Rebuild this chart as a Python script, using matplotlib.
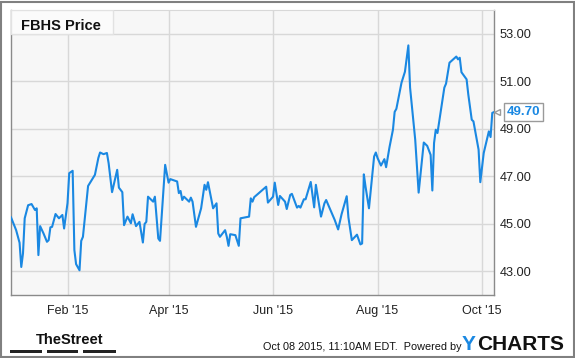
import matplotlib.pyplot as plt
from matplotlib.patches import Rectangle
import pandas as pd

# FBHS daily close
dates = ['2014-12-30', '2015-01-02', '2015-01-04', '2015-01-05', '2015-01-06', '2015-01-07',
         '2015-01-09', '2015-01-11', '2015-01-13', '2015-01-14', '2015-01-15', '2015-01-16',
         '2015-01-18', '2015-01-20', '2015-01-21', '2015-01-22', '2015-01-23', '2015-01-25',
         '2015-01-27', '2015-01-29', '2015-01-30', '2015-02-01', '2015-02-02', '2015-02-04',
         '2015-02-05', '2015-02-06', '2015-02-08', '2015-02-09', '2015-02-10', '2015-02-13',
         '2015-02-17', '2015-02-19', '2015-02-20', '2015-02-22', '2015-02-24', '2015-02-25',
         '2015-02-27', '2015-03-02', '2015-03-03', '2015-03-05', '2015-03-06', '2015-03-08',
         '2015-03-10', '2015-03-11', '2015-03-13', '2015-03-15', '2015-03-17', '2015-03-18',
         '2015-03-19', '2015-03-20', '2015-03-23', '2015-03-24', '2015-03-26', '2015-03-27',
         '2015-03-30', '2015-04-01', '2015-04-02', '2015-04-06', '2015-04-07', '2015-04-08',
         '2015-04-09', '2015-04-10', '2015-04-13', '2015-04-14', '2015-04-15', '2015-04-17',
         '2015-04-20', '2015-04-22', '2015-04-23', '2015-04-24', '2015-04-27', '2015-04-29',
         '2015-04-30', '2015-05-01', '2015-05-04', '2015-05-05', '2015-05-06', '2015-05-07',
         '2015-05-10', '2015-05-12', '2015-05-13', '2015-05-16', '2015-05-18', '2015-05-19',
         '2015-05-20', '2015-05-21', '2015-05-28', '2015-05-29', '2015-06-01', '2015-06-02',
         '2015-06-04', '2015-06-05', '2015-06-08', '2015-06-09', '2015-06-11', '2015-06-12',
         '2015-06-15', '2015-06-16', '2015-06-17', '2015-06-19', '2015-06-20', '2015-06-23',
         '2015-06-25', '2015-06-26', '2015-06-29', '2015-07-01', '2015-07-02', '2015-07-07',
         '2015-07-09', '2015-07-11', '2015-07-14', '2015-07-15', '2015-07-17', '2015-07-20',
         '2015-07-22', '2015-07-23', '2015-07-24', '2015-07-25', '2015-07-27', '2015-07-30',
         '2015-07-31', '2015-08-01', '2015-08-03', '2015-08-05', '2015-08-06', '2015-08-08',
         '2015-08-10', '2015-08-11', '2015-08-12', '2015-08-15', '2015-08-17', '2015-08-19',
         '2015-08-20', '2015-08-23', '2015-08-25', '2015-08-28', '2015-08-30', '2015-09-01',
         '2015-09-02', '2015-09-03', '2015-09-04', '2015-09-05', '2015-09-09', '2015-09-10',
         '2015-09-12', '2015-09-16', '2015-09-17', '2015-09-18', '2015-09-19', '2015-09-22',
         '2015-09-23', '2015-09-25', '2015-09-26', '2015-09-29', '2015-09-30', '2015-10-02',
         '2015-10-05', '2015-10-06', '2015-10-07', '2015-10-08']
prices = [45.27, 44.73, 44.20, 43.18, 43.75, 45.23,
          45.78, 45.83, 45.58, 45.65, 43.68, 44.90,
          44.59, 44.24, 44.31, 44.85, 44.87, 45.41,
          45.23, 45.37, 44.80, 45.87, 47.13, 47.23,
          43.89, 43.30, 43.04, 44.28, 44.45, 46.59,
          47.06, 47.77, 48.00, 47.93, 47.98, 47.55,
          46.33, 47.27, 46.52, 46.33, 44.94, 45.30,
          45.02, 45.40, 44.90, 45.08, 44.21, 44.99,
          45.08, 46.14, 45.93, 46.14, 44.38, 44.28,
          47.48, 46.73, 46.88, 46.78, 46.29, 46.38,
          46.00, 46.14, 45.93, 46.10, 45.93, 44.87,
          45.65, 46.64, 46.43, 46.75, 45.65, 45.86,
          44.59, 44.45, 44.73, 44.45, 44.07, 44.56,
          44.52, 44.07, 45.23, 45.27, 45.30, 46.07,
          45.93, 46.12, 46.56, 45.89, 46.14, 46.73,
          45.79, 46.17, 45.93, 45.62, 46.21, 46.26,
          45.68, 45.75, 45.68, 46.03, 46.03, 46.76,
          45.69, 46.64, 45.30, 45.86, 46.00, 45.16,
          44.76, 45.40, 46.16, 45.27, 44.31, 44.54,
          44.13, 44.17, 47.08, 46.56, 45.65, 47.83,
          48.00, 47.77, 47.45, 47.72, 47.38, 48.23,
          48.96, 49.71, 49.84, 50.94, 51.40, 52.51,
          50.73, 48.54, 46.31, 48.42, 48.28, 47.90,
          46.40, 48.40, 48.96, 48.82, 50.73, 50.90,
          51.78, 52.04, 51.92, 51.99, 51.38, 51.08,
          50.44, 49.38, 49.31, 48.12, 46.75, 47.98,
          48.89, 48.65, 49.67, 49.70]

tick_dates = ['2015-02-01', '2015-04-01', '2015-06-01', '2015-08-01', '2015-10-01']
tick_labels = ["Feb '15", "Apr '15", "Jun '15", "Aug '15", "Oct '15"]
y_ticks = [43, 45, 47, 49, 51, 53]

plt.rcParams['font.family'] = ['Liberation Sans', 'DejaVu Sans']

line_color = '#1a88e2'
x = pd.to_datetime(dates)

fig = plt.figure(figsize=(5.75, 3.58), dpi=100)
ax = fig.add_axes([11 / 575, 1 - 295 / 358, 483 / 575, 285 / 358])
ax.set_facecolor('#f7f7f7')

ax.plot(x, prices, color=line_color, lw=1.5, zorder=3)

ax.set_xlim(pd.Timestamp('2014-12-30'), pd.Timestamp('2015-10-08'))
ax.set_ylim(42, 54)

ax.set_xticks(pd.to_datetime(tick_dates))
ax.set_xticklabels(tick_labels, fontsize=9, color='#222222')
ax.set_yticks(y_ticks)
ax.set_yticklabels([f'{v:.2f}' for v in y_ticks], fontsize=9.2, color='#222222')
ax.yaxis.tick_right()
ax.tick_params(axis='both', length=0)
ax.tick_params(axis='x', pad=7)
ax.tick_params(axis='y', pad=4)

ax.grid(True, color='#d8d8d8', lw=1, zorder=0)
for side in ['left', 'bottom', 'right']:
    ax.spines[side].set_color('#8a8a8a')
    ax.spines[side].set_linewidth(1)
ax.spines['top'].set_color('#d8d8d8')

# title box
ax.text(0.021, 0.945, 'FBHS Price', transform=ax.transAxes, fontsize=10.5,
        fontweight='bold', color='#111111', va='center', ha='left', zorder=5)
ax.add_patch(Rectangle((0, 0.916), 0.212, 0.084, transform=ax.transAxes,
                       facecolor='#fbfbfb', edgecolor='#e2e2e2', lw=1, zorder=4))

# last value label
ax.annotate(f'{prices[-1]:.2f}', xy=(1, prices[-1]), xycoords=('axes fraction', 'data'),
            xytext=(9, 0), textcoords='offset points', fontsize=9.5, fontweight='bold',
            color=line_color, va='center', ha='left',
            bbox=dict(boxstyle='square,pad=0.2', facecolor='white', edgecolor='#9a9a9a', lw=1))
ax.plot([1.006], [prices[-1]], marker='<', ms=5, mfc='white', mec='#9a9a9a',
        transform=ax.get_yaxis_transform(), clip_on=False, zorder=6)

# footer
fig.text(36 / 575, 1 - 340 / 358, 'TheStreet', fontsize=10.5, fontweight='bold',
         family=['Liberation Sans Narrow', 'Liberation Sans'], color='#111111', va='center')
for x0, x1 in [(10, 42), (47, 78), (83, 116)]:
    fig.add_artist(Rectangle((x0 / 575, 1 - 353 / 358), (x1 - x0) / 575, 3 / 358,
                             transform=fig.transFigure, facecolor='#222222', edgecolor='none'))
fig.text(263 / 575, 1 - 347 / 358, 'Oct 08 2015, 11:10AM EDT.  Powered by', fontsize=7.8,
         color='#111111', va='center')
fig.text(462 / 575, 1 - 344 / 358, 'Y', fontsize=15, fontweight='bold', color='#1a88e2',
         va='center')
fig.text(477 / 575, 1 - 344 / 358, 'CHARTS', fontsize=15, fontweight='bold', color='#111111',
         va='center')

fig.add_artist(Rectangle((1 / 575, 1 / 358), 573 / 575, 355 / 358, transform=fig.transFigure,
                         fill=False, edgecolor='#808080', lw=1.5))

fig.savefig('out.png', dpi=100, facecolor='white')
